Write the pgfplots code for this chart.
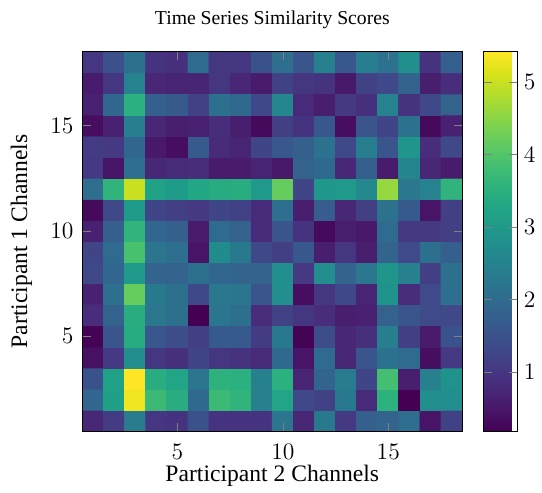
\documentclass[border=0pt]{standalone}
\usepackage{pgfplots}
\pgfplotsset{compat=1.18}
\usepackage{fontspec}
\setmainfont{Liberation Serif}

\begin{document}
\begin{tikzpicture}
\begin{axis}[
  scale only axis, width=193pt, height=193pt,
  xmin=0.5, xmax=18.5, ymin=0.5, ymax=18.5,
  xtick={5,10,15}, ytick={5,10,15},
  tick label style={font=\large},
  label style={font=\large},
  xticklabel style={yshift=-3pt}, yticklabel style={xshift=-1.1pt},
  title={Time Series Similarity Scores},
  title style={inner ysep=5.5pt},
  xlabel={Participant 2 Channels},
  xlabel style={at={(axis description cs:0.5,0)}, anchor=north, yshift=-13.5pt},
  ylabel={Participant 1 Channels},
  ylabel style={at={([xshift=-19.9pt]axis description cs:0,0.5)}, anchor=south, inner ysep=5.5pt},
  colormap/viridis,
  point meta min=0.18, point meta max=5.42,
  colorbar,
  colorbar style={width=17pt, xshift=-0.3cm+10.7pt, ytick={1,2,3,4,5},
    tick label style={font=\large}},
  axis on top,
]
\addplot[matrix plot*, mesh/cols=18, point meta=explicit]
  table[meta=c, row sep=\\] {
x y c \\
1 1 0.75 \\ 2 1 1.1 \\ 3 1 2.35 \\ 4 1 1.0 \\ 5 1 0.95 \\ 6 1 1.5 \\ 7 1 0.95 \\ 8 1 0.95 \\ 9 1 0.95 \\ 10 1 2.2 \\ 11 1 0.75 \\ 12 1 2.3 \\ 13 1 1.05 \\ 14 1 1.75 \\ 15 1 1.85 \\ 16 1 2.05 \\ 17 1 0.45 \\ 18 1 1.2 \\
1 2 1.9 \\ 2 2 3.15 \\ 3 2 5.3 \\ 4 2 3.75 \\ 5 2 3.45 \\ 6 2 1.95 \\ 7 2 3.75 \\ 8 2 3.6 \\ 9 2 2.45 \\ 10 2 3.25 \\ 11 2 1.3 \\ 12 2 1.2 \\ 13 2 2.3 \\ 14 2 0.8 \\ 15 2 3.55 \\ 16 2 0.18 \\ 17 2 2.75 \\ 18 2 2.75 \\
1 3 1.5 \\ 2 3 3.2 \\ 3 3 5.42 \\ 4 3 3.45 \\ 5 3 3.25 \\ 6 3 2.2 \\ 7 3 3.55 \\ 8 3 3.5 \\ 9 3 2.45 \\ 10 3 3.5 \\ 11 3 0.7 \\ 12 3 1.85 \\ 13 3 2.35 \\ 14 3 1.25 \\ 15 3 3.85 \\ 16 3 0.6 \\ 17 3 2.45 \\ 18 3 2.85 \\
1 4 0.4 \\ 2 4 1.05 \\ 3 4 2.75 \\ 4 4 1.0 \\ 5 4 0.9 \\ 6 4 1.25 \\ 7 4 1.0 \\ 8 4 0.95 \\ 9 4 0.8 \\ 10 4 1.95 \\ 11 4 0.45 \\ 12 4 2.0 \\ 13 4 0.75 \\ 14 4 1.55 \\ 15 4 2.15 \\ 16 4 2.0 \\ 17 4 0.35 \\ 18 4 1.05 \\
1 5 0.2 \\ 2 5 1.55 \\ 3 5 3.4 \\ 4 5 1.6 \\ 5 5 1.4 \\ 6 5 1.15 \\ 7 5 1.65 \\ 8 5 1.65 \\ 9 5 1.1 \\ 10 5 2.3 \\ 11 5 0.2 \\ 12 5 1.4 \\ 13 5 0.75 \\ 14 5 0.9 \\ 15 5 2.4 \\ 16 5 1.15 \\ 17 5 0.55 \\ 18 5 1.5 \\
1 6 0.85 \\ 2 6 1.8 \\ 3 6 3.45 \\ 4 6 2.25 \\ 5 6 2.1 \\ 6 6 0.18 \\ 7 6 2.2 \\ 8 6 2.1 \\ 9 6 0.85 \\ 10 6 1.2 \\ 11 6 1.0 \\ 12 6 0.85 \\ 13 6 0.6 \\ 14 6 0.65 \\ 15 6 1.8 \\ 16 6 1.55 \\ 17 6 1.35 \\ 18 6 1.3 \\
1 7 0.65 \\ 2 7 2.1 \\ 3 7 4.2 \\ 4 7 2.3 \\ 5 7 2.1 \\ 6 7 1.3 \\ 7 7 2.25 \\ 8 7 2.2 \\ 9 7 1.55 \\ 10 7 2.75 \\ 11 7 0.35 \\ 12 7 1.0 \\ 13 7 1.3 \\ 14 7 0.7 \\ 15 7 2.85 \\ 16 7 0.85 \\ 17 7 1.35 \\ 18 7 2.05 \\
1 8 1.3 \\ 2 8 1.9 \\ 3 8 3.0 \\ 4 8 1.85 \\ 5 8 1.85 \\ 6 8 2.1 \\ 7 8 1.9 \\ 8 8 1.85 \\ 9 8 1.85 \\ 10 8 2.75 \\ 11 8 1.05 \\ 12 8 2.75 \\ 13 8 1.85 \\ 14 8 2.25 \\ 15 8 2.9 \\ 16 8 2.45 \\ 17 8 1.15 \\ 18 8 2.1 \\
1 9 1.25 \\ 2 9 2.0 \\ 3 9 3.9 \\ 4 9 2.2 \\ 5 9 2.05 \\ 6 9 0.45 \\ 7 9 2.7 \\ 8 9 2.3 \\ 9 9 1.3 \\ 10 9 1.15 \\ 11 9 1.6 \\ 12 9 0.6 \\ 13 9 1.0 \\ 14 9 0.6 \\ 15 9 1.85 \\ 16 9 1.35 \\ 17 9 2.1 \\ 18 9 1.75 \\
1 10 0.65 \\ 2 10 1.75 \\ 3 10 3.6 \\ 4 10 1.9 \\ 5 10 1.75 \\ 6 10 0.55 \\ 7 10 2.0 \\ 8 10 1.8 \\ 9 10 0.8 \\ 10 10 1.55 \\ 11 10 0.95 \\ 12 10 0.3 \\ 13 10 0.6 \\ 14 10 0.5 \\ 15 10 2.0 \\ 16 10 1.05 \\ 17 10 1.05 \\ 18 10 1.15 \\
1 11 0.3 \\ 2 11 1.3 \\ 3 11 3.05 \\ 4 11 1.25 \\ 5 11 1.15 \\ 6 11 1.05 \\ 7 11 1.25 \\ 8 11 1.2 \\ 9 11 0.8 \\ 10 11 2.05 \\ 11 11 0.6 \\ 12 11 1.7 \\ 13 11 0.75 \\ 14 11 1.15 \\ 15 11 2.15 \\ 16 11 1.65 \\ 17 11 0.45 \\ 18 11 1.15 \\
1 12 2.05 \\ 2 12 3.6 \\ 3 12 5.0 \\ 4 12 3.2 \\ 5 12 3.05 \\ 6 12 3.3 \\ 7 12 3.4 \\ 8 12 3.45 \\ 9 12 3.0 \\ 10 12 4.2 \\ 11 12 1.25 \\ 12 12 2.95 \\ 13 12 3.0 \\ 14 12 2.65 \\ 15 12 4.6 \\ 16 12 2.25 \\ 17 12 2.5 \\ 18 12 3.6 \\
1 13 1.05 \\ 2 13 0.45 \\ 3 13 2.05 \\ 4 13 0.75 \\ 5 13 0.8 \\ 6 13 0.85 \\ 7 13 0.55 \\ 8 13 0.55 \\ 9 13 0.7 \\ 10 13 0.5 \\ 11 13 1.8 \\ 12 13 1.95 \\ 13 13 0.75 \\ 14 13 1.75 \\ 15 13 0.55 \\ 16 13 2.55 \\ 17 13 0.75 \\ 18 13 0.55 \\
1 14 1.1 \\ 2 14 1.05 \\ 3 14 1.9 \\ 4 14 0.5 \\ 5 14 0.35 \\ 6 14 1.65 \\ 7 14 0.8 \\ 8 14 0.7 \\ 9 14 1.25 \\ 10 14 1.6 \\ 11 14 1.75 \\ 12 14 2.15 \\ 13 14 1.3 \\ 14 14 2.4 \\ 15 14 1.55 \\ 16 14 2.9 \\ 17 14 0.85 \\ 18 14 1.3 \\
1 15 0.35 \\ 2 15 0.65 \\ 3 15 2.4 \\ 4 15 0.75 \\ 5 15 0.6 \\ 6 15 0.65 \\ 7 15 0.85 \\ 8 15 0.6 \\ 9 15 0.3 \\ 10 15 1.15 \\ 11 15 0.95 \\ 12 15 1.6 \\ 13 15 0.35 \\ 14 15 1.55 \\ 15 15 1.25 \\ 16 15 2.15 \\ 17 15 0.3 \\ 18 15 0.65 \\
1 16 0.65 \\ 2 16 1.9 \\ 3 16 3.5 \\ 4 16 1.75 \\ 5 16 1.65 \\ 6 16 1.2 \\ 7 16 2.1 \\ 8 16 1.95 \\ 9 16 1.3 \\ 10 16 2.6 \\ 11 16 0.8 \\ 12 16 0.6 \\ 13 16 1.05 \\ 14 16 0.9 \\ 15 16 2.5 \\ 16 16 0.95 \\ 17 16 1.3 \\ 18 16 1.8 \\
1 17 0.55 \\ 2 17 1.0 \\ 3 17 2.5 \\ 4 17 0.75 \\ 5 17 0.7 \\ 6 17 0.7 \\ 7 17 1.0 \\ 8 17 0.75 \\ 9 17 0.55 \\ 10 17 1.2 \\ 11 17 1.0 \\ 12 17 0.95 \\ 13 17 0.5 \\ 14 17 1.2 \\ 15 17 1.3 \\ 16 17 1.8 \\ 17 17 0.6 \\ 18 17 0.85 \\
1 18 1.0 \\ 2 18 1.45 \\ 3 18 2.1 \\ 4 18 0.95 \\ 5 18 0.9 \\ 6 18 2.0 \\ 7 18 1.0 \\ 8 18 1.0 \\ 9 18 1.5 \\ 10 18 2.05 \\ 11 18 1.55 \\ 12 18 2.45 \\ 13 18 1.6 \\ 14 18 2.4 \\ 15 18 2.15 \\ 16 18 2.8 \\ 17 18 0.95 \\ 18 18 1.75 \\
};
\end{axis}
\end{tikzpicture}
\end{document}
